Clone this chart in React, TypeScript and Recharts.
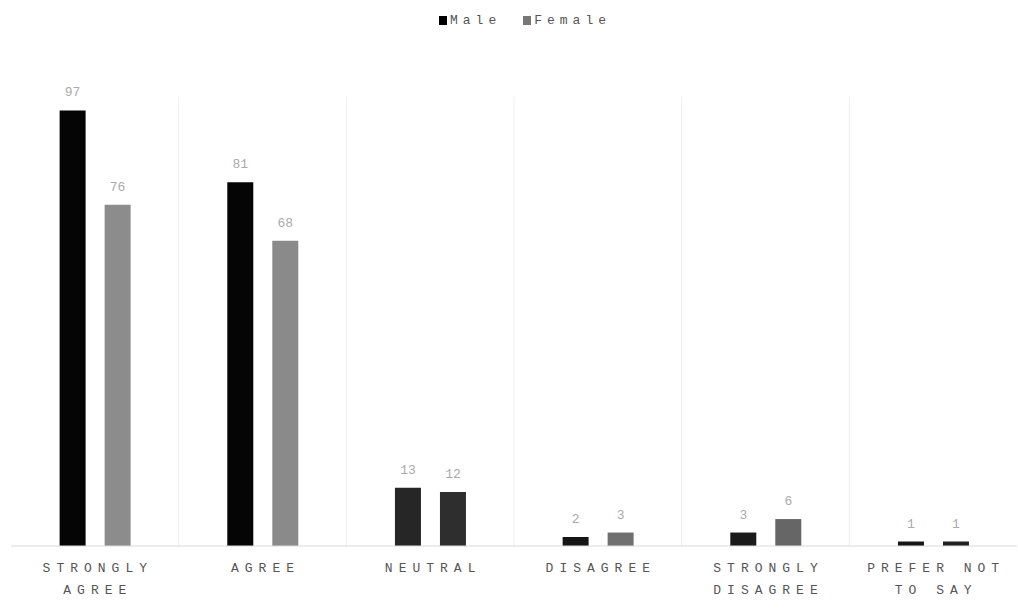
import React from 'react'
import { BarChart, Bar, XAxis, YAxis, CartesianGrid, Legend, LabelList, Cell } from 'recharts'

// ── data ──
const categories = ['STRONGLY AGREE', 'AGREE', 'NEUTRAL', 'DISAGREE', 'STRONGLY DISAGREE', 'PREFER NOT TO SAY']
const tickLines = [['STRONGLY', 'AGREE'], ['AGREE'], ['NEUTRAL'], ['DISAGREE'], ['STRONGLY', 'DISAGREE'], ['PREFER NOT', 'TO SAY']]
const male = [97, 81, 13, 2, 3, 1]
const female = [76, 68, 12, 3, 6, 1]

// ── styling ──
const maleFills = ['#050505', '#050505', '#262626', '#151515', '#1a1a1a', '#151515']
const femaleFills = ['#8c8c8c', '#8a8a8a', '#2e2e2e', '#707070', '#666666', '#202020']
const FONT = '"Liberation Mono", "DejaVu Sans Mono", monospace'

const data = categories.map((c, i) => ({ name: c, male: male[i], female: female[i] }))

function CategoryTick({ x, y, payload }: any) {
  const idx = categories.indexOf(payload.value)
  const lines = tickLines[idx] || [payload.value]
  return (
    <text x={x} y={y} textAnchor="middle" fill="#555" fontFamily={FONT} fontSize={13} letterSpacing={6}>
      {lines.map((l, i) => (
        <tspan key={i} x={x + 3} dy={i === 0 ? 18 : 22}>{l}</tspan>
      ))}
    </text>
  )
}

function LegendBox() {
  const items = [{ label: 'Male', color: '#000' }, { label: 'Female', color: '#777' }]
  return (
    <div style={{ display: 'flex', justifyContent: 'center', gap: 22, paddingLeft: 22, fontFamily: FONT, fontSize: 13, letterSpacing: 5, color: '#555' }}>
      {items.map(it => (
        <span key={it.label} style={{ display: 'flex', alignItems: 'center' }}>
          <span style={{ display: 'inline-block', width: 8, height: 9, background: it.color, marginRight: 3 }} />
          {it.label}
        </span>
      ))}
    </div>
  )
}

export default function App() {
  return (
    <div style={{ width: 1018, height: 610, background: '#fff' }}>
      <style>{'body{margin:0}'}</style>
      <BarChart
        width={1018} height={610} data={data}
        margin={{ top: 82, right: 1, bottom: 4, left: 11 }}
        barGap={19} barCategoryGap="29%"
      >
        <CartesianGrid
          horizontal={false} stroke="#efefef"
          verticalCoordinatesGenerator={({ offset }: any) =>
            categories.slice(1).map((_, i) => offset.left + (offset.width / categories.length) * (i + 1))}
        />
        <XAxis dataKey="name" interval={0} height={60} tick={<CategoryTick />} tickLine={false} axisLine={{ stroke: '#d9d9d9' }} />
        <YAxis hide domain={[0, 100]} />
        <Legend verticalAlign="top" content={<LegendBox />} wrapperStyle={{ top: 13 }} />
        <Bar dataKey="male" name="Male" fill="#000" isAnimationActive={false}>
          {data.map((_, i) => <Cell key={i} fill={maleFills[i]} />)}
          <LabelList dataKey="male" position="top" offset={14} fill="#aaa" fontFamily={FONT} fontSize={13} />
        </Bar>
        <Bar dataKey="female" name="Female" fill="#888" isAnimationActive={false}>
          {data.map((_, i) => <Cell key={i} fill={femaleFills[i]} />)}
          <LabelList dataKey="female" position="top" offset={14} fill="#aaa" fontFamily={FONT} fontSize={13} />
        </Bar>
      </BarChart>
    </div>
  )
}
